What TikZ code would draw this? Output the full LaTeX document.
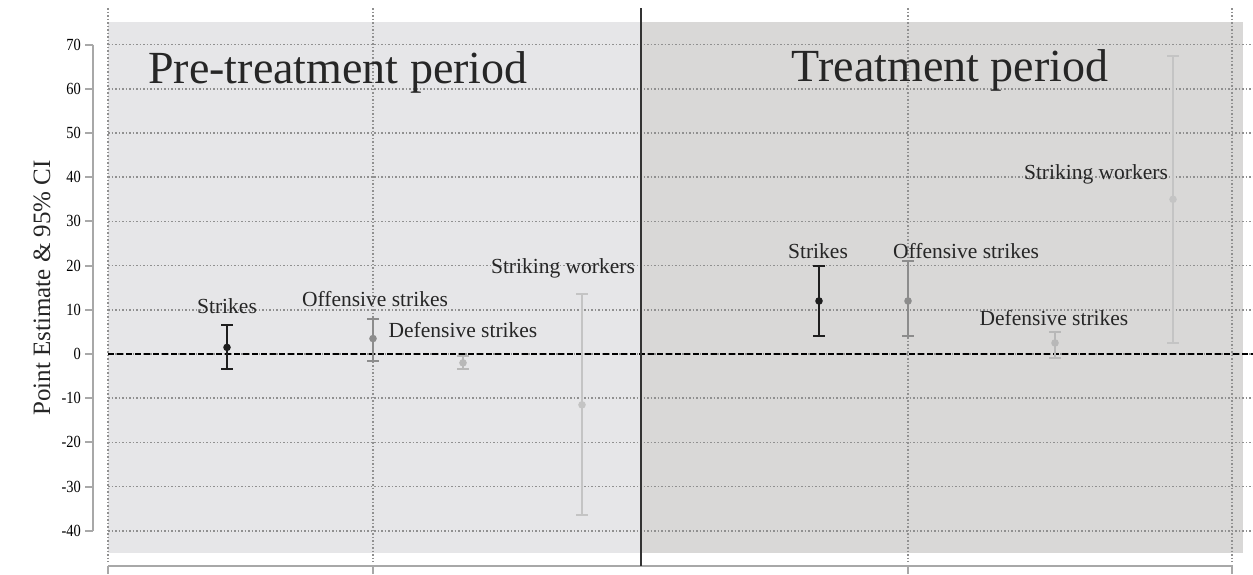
\documentclass[tikz,border=0pt]{standalone}
\usepackage{fontspec}
\setmainfont{Liberation Serif}
\definecolor{panelA}{HTML}{E6E6E8}
\definecolor{panelB}{HTML}{D9D8D7}
\definecolor{gridc}{HTML}{909090}
\definecolor{axisc}{HTML}{A8A8A8}
\definecolor{cStr}{HTML}{1E1E1E}
\definecolor{cOff}{HTML}{8C8C8C}
\definecolor{cDef}{HTML}{B8B8B8}
\definecolor{cWork}{HTML}{C4C4C4}
\tikzset{
  gridline/.style={gridc, line width=1.5pt, dash pattern=on 1.5pt off 2pt},
  axisline/.style={axisc, line width=2pt},
  ticklab/.style={anchor=east, font=\fontsize{17}{17}\selectfont, inner sep=0pt, xscale=0.85},
  serlab/.style={font=\fontsize{21.5}{21.5}\selectfont, text=black!85, inner sep=0pt},
  titlelab/.style={font=\fontsize{46}{46}\selectfont, text=black!85, inner sep=0pt},
  ebar/.style={line width=2pt},
}
\newcommand{\errbar}[5]{% x, lo, hi, point, colour
  \draw[ebar,#5] (#1,{354-#2*4.42}) -- (#1,{354-#3*4.42});
  \draw[ebar,#5] ({#1-6},{354-#2*4.42}) -- ({#1+6},{354-#2*4.42});
  \draw[ebar,#5] ({#1-6},{354-#3*4.42}) -- ({#1+6},{354-#3*4.42});
  \fill[#5] (#1,{354-#4*4.42}) circle (3.8);
}
\begin{document}
\begin{tikzpicture}[x=1pt,y=-1pt]
\useasboundingbox[fill=white] (0,0) rectangle (1253,574);
% panels
\fill[panelA] (108,22) rectangle (641,553);
\fill[panelB] (641,22) rectangle (1243,553);
% horizontal grid
\foreach \v in {70,60,...,-40}
  \draw[gridline] (108,{354-\v*4.42}) -- (1253,{354-\v*4.42});
% vertical grid
\foreach \xx in {108,373,908,1232}
  \draw[gridline] (\xx,8) -- (\xx,562);
% y axis
\draw[axisline] (93,44.6) -- (93,530.8);
\foreach \v in {70,60,...,-40} {
  \draw[axisline] (85,{354-\v*4.42}) -- (93,{354-\v*4.42});
  \node[ticklab] at (81,{354-\v*4.42}) {\ifnum\v<0 -\the\numexpr-\v\relax\else\v\fi};
}
\node[rotate=90, font=\fontsize{25}{25}\selectfont, text=black!85] (ylab) at (42,288) {Point Estimate \& 95\% CI};
% bottom axis
\draw[axisline] (108,566) -- (1233,566);
\foreach \xx in {108,373,908,1232}
  \draw[axisline] (\xx,566) -- (\xx,574);
% zero line
\draw[black, line width=1.6pt, dash pattern=on 6pt off 3pt] (108,354) -- (1253,354);
% divider
\draw[black!80, line width=2pt] (641,8) -- (641,566);
% titles
\node[titlelab] (t1) at (338,72) {Pre-treatment period};
\node[titlelab] (t2) at (950,70) {Treatment period};
% pre-treatment series
\errbar{227}{-3.5}{6.5}{1.5}{cStr}
\errbar{373}{-1.5}{8}{3.5}{cOff}
\errbar{463}{-3.5}{-0.5}{-2}{cDef}
\errbar{582}{-36.5}{13.5}{-11.5}{cWork}
\node[serlab] (l1) at (227,306) {Strikes};
\node[serlab] (l2) at (375,299) {Offensive strikes};
\node[serlab] (l3) at (463,330) {Defensive strikes};
\node[serlab] (l4) at (563,268) {Striking workers};
% treatment series
\errbar{819}{4}{20}{12}{cStr}
\errbar{908}{4}{21}{12}{cOff}
\errbar{1055}{-1}{5}{2.5}{cDef}
\errbar{1173}{2.5}{67.5}{35}{cWork}
\node[serlab] (m1) at (818,251) {Strikes};
\node[serlab] (m2) at (966,251) {Offensive strikes};
\node[serlab] (m3) at (1054,318) {Defensive strikes};
\node[serlab] (m4) at (1096,174) {Striking workers};
\end{tikzpicture}
\end{document}
